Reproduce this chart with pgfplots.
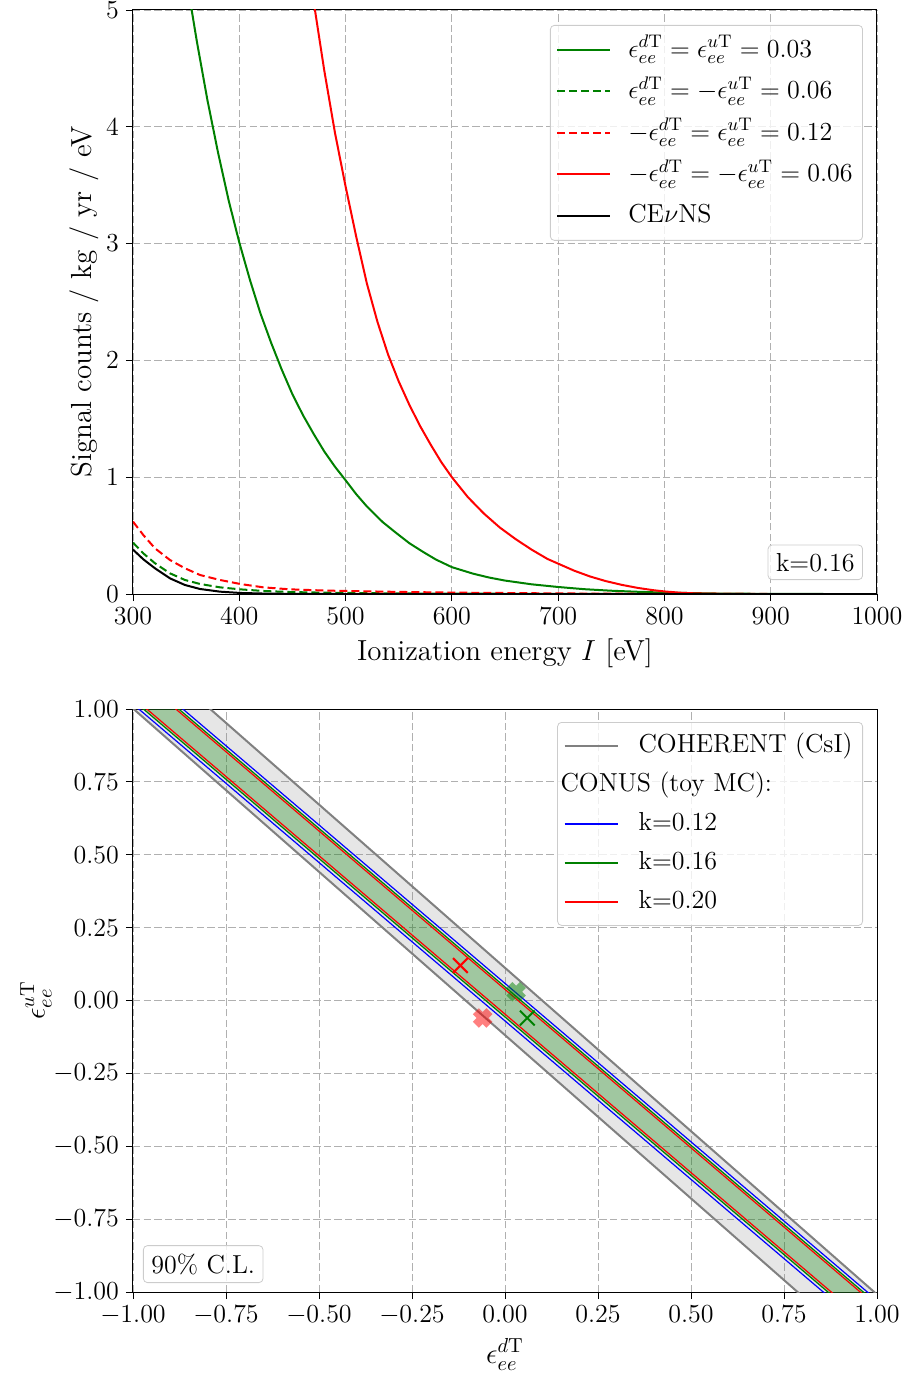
\RequirePackage{fix-cm}
\documentclass[border=0pt]{standalone}
\usepackage{pgfplots}
\pgfplotsset{compat=1.18}
\definecolor{mplgreen}{RGB}{0,128,0}
\definecolor{mplred}{RGB}{255,0,0}
\definecolor{mplblue}{RGB}{0,0,255}
\pgfplotsset{
  mystyle/.style={
    scale only axis, width=372pt,
    grid=major,
    major grid style={dash pattern=on 3.7pt off 1.6pt, color=black!31, line width=0.4pt},
    tick align=outside, major tick length=3.5pt,
    tick style={black, line width=0.4pt},
    axis line style={line width=0.5pt},
    xtick pos=left, ytick pos=left,
    /pgf/number format/1000 sep={},
    label style={font=\fontsize{14.5}{17}\selectfont},
    ylabel shift=-3pt,
    legend cell align=left,
    legend image code/.code={\draw[mark repeat=2,mark phase=2,##1] plot coordinates {(0pt,0pt) (13pt,0pt) (26.5pt,0pt)};},
    legend style={draw=black!20, rounded corners=2pt, fill=white, fill opacity=0.8, text opacity=1,
      inner xsep=3pt, inner ysep=2pt},
  }
}
\begin{document}
\begin{tikzpicture}[font=\fontsize{13}{15.6}\selectfont]
\path[use as bounding box] (-66.5pt,-391pt) rectangle (387pt,297pt);
\begin{axis}[mystyle, name=top, at={(0,0)}, anchor=south west, height=292pt,
  xmin=300, xmax=1000, ymin=0, ymax=5,
  xtick={300,400,500,600,700,800,900,1000}, ytick={0,1,2,3,4,5},
  xlabel={Ionization energy $I$ [eV]},
  ylabel={Signal counts / kg / yr / eV},
  legend style={at={(1,1)}, anchor=north east, xshift=-7pt, yshift=-7.5pt,
    nodes={inner sep=2pt, text height=12pt, text depth=4.7pt}, column sep=6.5pt},
]
\addplot[mplgreen, line width=1pt] coordinates {
(350,5.30) (355.2,5.0) (360,4.735) (370,4.23) (380,3.78) (390,3.37) (400,3.01) (410,2.69) (420,2.40) (430,2.15) (440,1.92) (450,1.71) (460,1.53) (470,1.37) (480,1.22) (490,1.09) (500,0.974) (510,0.855) (520,0.75) (535,0.615) (548,0.52) (560,0.435) (573,0.36) (585,0.295) (600,0.23) (620,0.174) (635,0.141) (650,0.115) (675,0.083) (700,0.06) (725,0.041) (750,0.028) (775,0.019) (800,0.012) (850,0.004) (900,0.001) (950,0) (1000,0)};
\addlegendentry{$\epsilon_{ee}^{d\mathrm{T}} = \epsilon_{ee}^{u\mathrm{T}} = 0.03$}
\addplot[mplgreen, line width=1pt, dash pattern=on 4pt off 2pt] coordinates {
(300,0.44) (309.7,0.348) (320.7,0.263) (334.8,0.177) (348.9,0.12) (363,0.086) (381.9,0.057) (400.7,0.04) (422.6,0.026) (447.7,0.017) (482.2,0.011) (550,0.005) (600,0.003) (700,0.001) (800,0) (1000,0)};
\addlegendentry{$\epsilon_{ee}^{d\mathrm{T}} = -\epsilon_{ee}^{u\mathrm{T}} = 0.06$}
\addplot[mplred, line width=1pt, dash pattern=on 4pt off 2pt] coordinates {
(300,0.62) (309.7,0.505) (320.7,0.391) (334.8,0.291) (348.9,0.22) (363,0.163) (381.9,0.12) (400.7,0.086) (422.6,0.057) (447.7,0.04) (482.2,0.029) (550,0.018) (600,0.012) (700,0.005) (800,0.001) (900,0) (1000,0)};
\addlegendentry{$-\epsilon_{ee}^{d\mathrm{T}} = \epsilon_{ee}^{u\mathrm{T}} = 0.12$}
\addplot[mplred, line width=1pt] coordinates {
(467,5.27) (471.2,5.0) (480,4.48) (490,3.95) (500,3.49) (510,3.06) (520,2.66) (530,2.33) (540,2.05) (550,1.82) (560,1.62) (570,1.44) (580,1.28) (590,1.13) (600,1.00) (615,0.83) (630,0.69) (645,0.57) (660,0.47) (675,0.38) (690,0.30) (700,0.26) (715,0.20) (730,0.15) (745,0.11) (760,0.078) (775,0.052) (790,0.032) (800,0.022) (815,0.011) (830,0.005) (850,0.002) (875,0) (1000,0)};
\addlegendentry{$-\epsilon_{ee}^{d\mathrm{T}} = -\epsilon_{ee}^{u\mathrm{T}} = 0.06$}
\addplot[black, line width=1pt] coordinates {
(300,0.38) (309.7,0.297) (320.7,0.22) (334.8,0.134) (348.9,0.077) (363,0.043) (381.9,0.02) (400.7,0.009) (422.6,0.004) (450,0.001) (500,0) (1000,0)};
\addlegendentry{CE$\nu$NS}
\node[draw=black!20, rounded corners=2pt, fill=white, fill opacity=0.8, text opacity=1, inner sep=4pt, anchor=south east]
  at ([xshift=-7pt,yshift=7pt]rel axis cs:1,0) {k=0.16};
\end{axis}

\begin{axis}[mystyle, at={(0pt,-57.5pt)}, anchor=north west, height=291.5pt,
  xmin=-1, xmax=1, ymin=-1, ymax=1,
  xtick={-1,-0.75,-0.5,-0.25,0,0.25,0.5,0.75,1},
  ytick={-1,-0.75,-0.5,-0.25,0,0.25,0.5,0.75,1},
  xticklabel style={/pgf/number format/.cd, fixed, fixed zerofill, precision=2},
  yticklabel style={/pgf/number format/.cd, fixed, fixed zerofill, precision=2},
  xlabel={$\epsilon_{ee}^{d\mathrm{T}}$},
  ylabel={$\epsilon_{ee}^{u\mathrm{T}}$},
  ylabel shift=-6pt,
  legend style={at={(1,1)}, anchor=north east, xshift=-7pt, yshift=-6.5pt,
    nodes={inner sep=2pt, text height=11pt, text depth=4.5pt}, column sep=8pt},
]
% COHERENT band
\addplot[draw=none, fill=gray, fill opacity=0.2, forget plot] coordinates {(-1.177,1.2) (-0.971,1.2) (1.171,-1.2) (0.965,-1.2)} -- cycle;
\addplot[gray, line width=1pt, forget plot] coordinates {(-1.177,1.2) (0.965,-1.2)};
\addplot[gray, line width=1pt, forget plot] coordinates {(-0.971,1.2) (1.171,-1.2)};
% CONUS k=0.16 fill
\addplot[draw=none, fill=mplgreen, fill opacity=0.3, forget plot] coordinates {(-1.156,1.2) (-1.061,1.2) (1.147,-1.2) (1.052,-1.2)} -- cycle;
% CONUS lines
\addplot[mplblue, line width=0.6pt, forget plot] coordinates {(-1.1685,1.2) (1.0395,-1.2)};
\addplot[mplblue, line width=0.6pt, forget plot] coordinates {(-1.050,1.2) (1.158,-1.2)};
\addplot[mplgreen, line width=0.6pt, forget plot] coordinates {(-1.156,1.2) (1.052,-1.2)};
\addplot[mplgreen, line width=0.6pt, forget plot] coordinates {(-1.061,1.2) (1.147,-1.2)};
\addplot[mplred, line width=0.6pt, forget plot] coordinates {(-1.147,1.2) (1.061,-1.2)};
\addplot[mplred, line width=0.6pt, forget plot] coordinates {(-1.069,1.2) (1.139,-1.2)};
% markers
\addplot[only marks, mark=x, mark size=4.8pt, mplred, forget plot, mark options={line width=4.2pt, draw opacity=0.5}] coordinates {(-0.06,-0.06)};
\addplot[only marks, mark=x, mark size=4.8pt, mplgreen, forget plot, mark options={line width=4.2pt, draw opacity=0.5}] coordinates {(0.03,0.03)};
\addplot[only marks, mark=x, mark size=5.2pt, mplred, forget plot, mark options={line width=1pt}] coordinates {(-0.12,0.12)};
\addplot[only marks, mark=x, mark size=5.2pt, mplgreen, forget plot, mark options={line width=1pt}] coordinates {(0.06,-0.06)};
% legend
\addlegendimage{gray, line width=1pt}
\addlegendentry{COHERENT (CsI)}
\addlegendimage{empty legend}
\addlegendentry{\hspace*{-39pt}CONUS (toy MC):}
\addlegendimage{mplblue, line width=0.6pt}
\addlegendentry{k=0.12}
\addlegendimage{mplgreen, line width=0.6pt}
\addlegendentry{k=0.16}
\addlegendimage{mplred, line width=0.6pt}
\addlegendentry{k=0.20}
\node[draw=black!20, rounded corners=2pt, fill=white, fill opacity=0.8, text opacity=1, inner sep=4pt, anchor=south west]
  at ([xshift=5pt,yshift=4.5pt]rel axis cs:0,0) {90\% C.L.};
\end{axis}
\end{tikzpicture}
\end{document}
